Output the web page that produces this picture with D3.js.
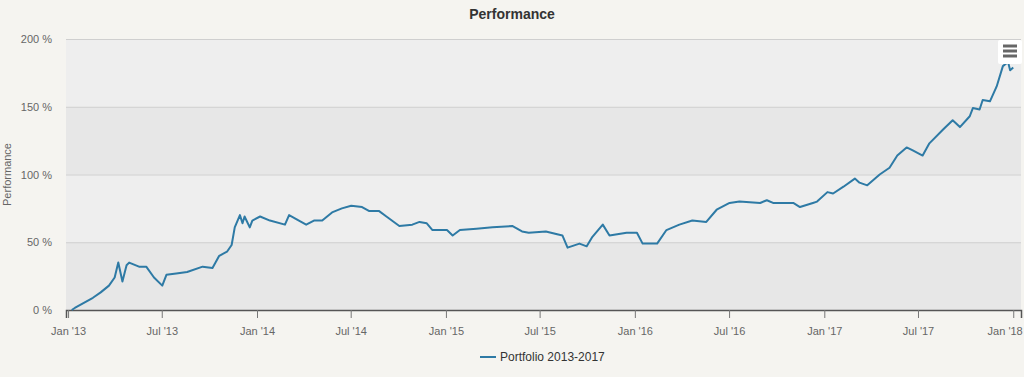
<!DOCTYPE html>
<html>
<head>
<meta charset="utf-8">
<script src="https://cdn.jsdelivr.net/npm/d3@7"></script>
<style>
  body { margin: 0; background: #f5f4f0; }
  text { font-family: "Liberation Sans", Arial, sans-serif; }
</style>
</head>
<body>
<div id="chart"></div>
<script>
const width = 1024, height = 377;

// series (date, % performance)
const dates = ["2013-01-08","2013-01-14","2013-02-18","2013-03-05","2013-03-21","2013-04-01","2013-04-08","2013-04-16","2013-04-24","2013-04-29",
  "2013-05-18","2013-06-01","2013-06-16","2013-07-02","2013-07-10","2013-07-29","2013-08-19","2013-09-18","2013-10-07","2013-10-20",
  "2013-11-04","2013-11-13","2013-11-19","2013-11-29","2013-12-04","2013-12-08","2013-12-18","2013-12-23","2014-01-07","2014-01-26",
  "2014-02-24","2014-03-04","2014-03-23","2014-04-06","2014-04-21","2014-05-07","2014-05-26","2014-06-14","2014-07-02","2014-07-23",
  "2014-08-06","2014-08-25","2014-09-08","2014-10-03","2014-10-28","2014-11-11","2014-11-25","2014-12-06","2015-01-03","2015-01-14",
  "2015-01-28","2015-03-01","2015-04-01","2015-05-09","2015-05-28","2015-06-10","2015-07-13","2015-08-14","2015-08-24",
  "2015-09-16","2015-09-30","2015-10-11","2015-10-31","2015-11-13","2015-12-16","2016-01-05","2016-01-16","2016-02-13","2016-03-02",
  "2016-03-27","2016-04-21","2016-05-18","2016-06-07","2016-07-02","2016-07-21","2016-08-30","2016-09-12","2016-09-24","2016-11-02",
  "2016-11-15","2016-12-10","2016-12-18","2017-01-07","2017-01-18","2017-02-07","2017-03-01","2017-03-10","2017-03-25","2017-04-18",
  "2017-05-07","2017-05-22","2017-06-09","2017-06-20","2017-07-10","2017-07-23","2017-08-18","2017-09-06","2017-09-20","2017-10-09",
  "2017-10-15","2017-10-28","2017-11-03","2017-11-17","2017-11-30","2017-12-12","2017-12-22","2017-12-26","2018-01-01"];
const values = [0,1.5,9,13,18,24,35,21,33,35,
  32,32,24,18,26,27,28,32,31,40,
  43,48,61,70,64,69,61,66,69,66,
  63,70,66,63,66,66,72,75,77,76,
  73,73,69,62,63,65,64,59,59,55,
  59,60,61,62,58,57,58,55,46,
  49,47,54,63,55,57,57,49,49,59,
  63,66,65,74,79,80,79,81,79,79,
  76,79,80,87,86,91,97,94,92,100,
  105,114,120,118,114,123,133,140,135,143,
  149,148,155,154,165,180,183,177,179];

const yTicks = [0, 50, 100, 150, 200];
const xTicks = ["2013-01-01","2013-07-01","2014-01-01","2014-07-01","2015-01-01","2015-07-01",
  "2016-01-01","2016-07-01","2017-01-01","2017-07-01","2018-01-01"];
const title = "Performance";
const seriesName = "Portfolio 2013-2017";

const parse = d3.timeParse("%Y-%m-%d");
const data = dates.map((d, i) => ({ date: parse(d), value: values[i] }));

const svg = d3.select("#chart")
  .append("svg")
  .attr("width", width)
  .attr("height", height);

const plotLeft = 66, plotRight = 1021, plotTop = 39, plotBottom = 310;

const x = d3.scaleTime()
  .domain([parse("2012-12-28"), parse("2018-01-16")])
  .range([plotLeft, plotRight]);

const y = d3.scaleLinear()
  .domain([0, 200])
  .range([plotBottom, plotTop]);

// alternating bands
svg.append("g")
  .selectAll("rect")
  .data(d3.pairs(yTicks))
  .join("rect")
  .attr("x", plotLeft)
  .attr("width", plotRight - plotLeft)
  .attr("y", d => y(d[1]))
  .attr("height", d => y(d[0]) - y(d[1]))
  .attr("fill", (d, i) => i % 2 === 0 ? "#e7e7e7" : "#eeeeee");

// y axis with grid
svg.append("g")
  .attr("transform", `translate(${plotLeft},0)`)
  .call(d3.axisLeft(y).tickValues(yTicks).tickSize(-(plotRight - plotLeft)).tickPadding(14).tickFormat(d => d + " %"))
  .call(g => g.select(".domain").remove())
  .call(g => g.selectAll(".tick line").attr("stroke", "#cfcfcf"))
  .call(g => g.selectAll(".tick text").attr("fill", "#666").style("font-size", "11px"));

// x axis
const xAxis = svg.append("g")
  .attr("transform", `translate(0,${plotBottom})`)
  .call(d3.axisBottom(x).tickValues(xTicks.map(parse)).tickSize(8).tickPadding(9).tickFormat(d3.timeFormat("%b '%y")))
  .call(g => g.select(".domain").attr("stroke", "#555").attr("stroke-width", 1.5))
  .call(g => g.selectAll(".tick line").attr("stroke", "#777"))
  .call(g => g.selectAll(".tick text").attr("fill", "#666").style("font-size", "11px"));

// keep the last label inside the chart
xAxis.selectAll(".tick:last-of-type text")
  .attr("text-anchor", "end")
  .attr("dx", 9);

// line
svg.append("path")
  .datum(data)
  .attr("fill", "none")
  .attr("stroke", "#2e7aa5")
  .attr("stroke-width", 2)
  .attr("stroke-linejoin", "round")
  .attr("d", d3.line()
    .x(d => x(d.date))
    .y(d => y(d.value)));

// title
svg.append("text")
  .attr("x", width / 2)
  .attr("y", 19)
  .attr("text-anchor", "middle")
  .attr("fill", "#333")
  .style("font-size", "14px")
  .style("font-weight", "bold")
  .text(title);

// y axis title
svg.append("text")
  .attr("transform", `translate(11,${(plotTop + plotBottom) / 2}) rotate(-90)`)
  .attr("text-anchor", "middle")
  .attr("fill", "#666")
  .style("font-size", "11px")
  .text("Performance");

// legend
const legend = svg.append("g").attr("transform", "translate(480,357)");
legend.append("line")
  .attr("x1", 0).attr("x2", 16)
  .attr("stroke", "#2e7aa5").attr("stroke-width", 2);
legend.append("text")
  .attr("x", 20)
  .attr("y", 4)
  .attr("fill", "#333")
  .style("font-size", "12px")
  .text(seriesName);

// menu button
const menu = svg.append("g").attr("transform", "translate(998,40)");
menu.append("rect")
  .attr("width", 24).attr("height", 24).attr("rx", 2)
  .attr("fill", "#fff");
menu.selectAll("line")
  .data([6, 11, 16])
  .join("line")
  .attr("x1", 5).attr("x2", 19)
  .attr("y1", d => d).attr("y2", d => d)
  .attr("stroke", "#666").attr("stroke-width", 3);
</script>
</body>
</html>
